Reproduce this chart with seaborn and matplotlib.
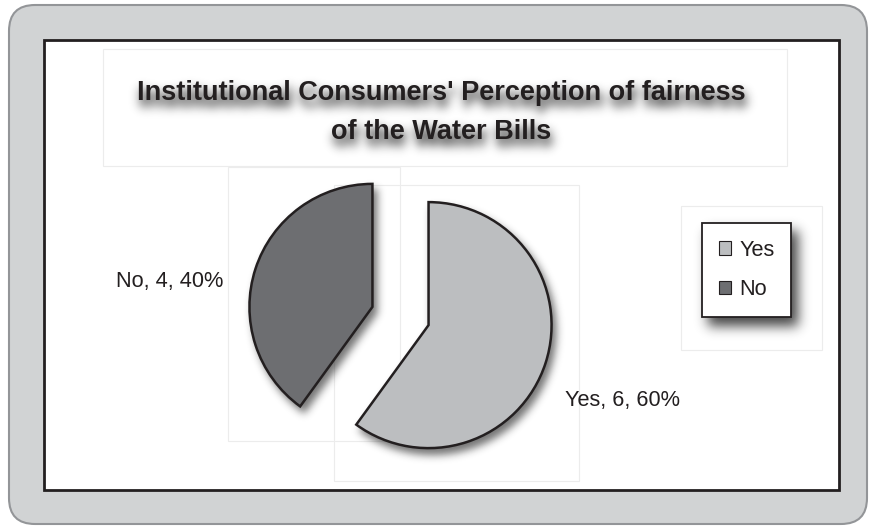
import numpy as np
import matplotlib
matplotlib.use("Agg")
import matplotlib.pyplot as plt
import seaborn as sns
from matplotlib.patches import FancyBboxPatch, Rectangle, Patch
from matplotlib.legend import Legend

# ---- data ----
categories = ["Yes", "No"]
counts = [6, 4]
title_lines = ["Institutional Consumers' Perception of fairness",
               "of the Water Bills"]

# ---- style ----
sns.set_theme(style="white")
plt.rcParams["font.family"] = ["Liberation Sans", "DejaVu Sans"]
palette = sns.color_palette(["#bcbec0", "#6d6e71"])
INK = "#231f20"

W, H = 869, 526
fig = plt.figure(figsize=(W / 100, H / 100), dpi=100)
fig.patch.set_facecolor("white")
ax = fig.add_axes([0, 0, 1, 1])


def Y(y):
    """Convert a top-based pixel row to the axes' y coordinate."""
    return H - y


def _blur(a, sigma):
    r = max(1, int(3 * sigma))
    k = np.exp(-0.5 * (np.arange(-r, r + 1) / sigma) ** 2)
    k /= k.sum()
    a = np.apply_along_axis(lambda m: np.convolve(m, k, mode="same"), 0, a)
    a = np.apply_along_axis(lambda m: np.convolve(m, k, mode="same"), 1, a)
    return a


class SoftShadow:
    """agg_filter that turns an artist into a blurred, offset drop shadow."""

    def __init__(self, sigma, alpha, offset, color=(0.1, 0.1, 0.1)):
        self.sigma, self.alpha, self.offset, self.color = sigma, alpha, offset, color

    def __call__(self, im, dpi):
        dx, dy = self.offset
        pad = int(3 * self.sigma + max(abs(dx), abs(dy))) + 2
        a = np.pad(im[..., 3], pad)
        a = _blur(a, self.sigma) * self.alpha
        a = np.roll(a, (dy, dx), axis=(0, 1))
        out = np.zeros(a.shape + (4,), float)
        out[..., :3] = self.color
        out[..., 3] = np.clip(a, 0, 1)
        return out, -pad, -pad


# ---- chart frame ----
outer = FancyBboxPatch((9, Y(524)), 858, 519,
                       boxstyle="round,pad=0,rounding_size=26",
                       fc="#d1d3d4", ec="#939598", lw=1.5, zorder=0)
ax.add_patch(outer)
inner = Rectangle((44, Y(490)), 795, 450, fc="white", ec=INK, lw=2.0, zorder=1)
ax.add_patch(inner)

# faint outlines of the title, plot and legend areas
for (x0, y0, x1, y1) in [(103, 49, 787, 166), (228, 167, 400, 441),
                         (334, 185, 579, 481), (681, 206, 822, 350)]:
    ax.add_patch(Rectangle((x0, Y(y1)), x1 - x0, y1 - y0, fill=False,
                           ec="#ececec", lw=0.8, zorder=1.5))

# ---- pie (explode distance is in data units = pixels here) ----
center = (400.5, Y(316))
radius = 123
explode = [29.5, 29.5]

shadow_wedges, _ = ax.pie(counts, colors=["black", "black"], startangle=90,
                          counterclock=False, explode=explode, radius=radius,
                          center=center, frame=True,
                          wedgeprops=dict(lw=1.5, ec="black"))
for w in shadow_wedges:
    w.set_zorder(2)
    w.set_agg_filter(SoftShadow(sigma=4, alpha=0.6, offset=(4, 6)))

wedges, _ = ax.pie(counts, colors=palette, startangle=90, counterclock=False,
                   explode=explode, radius=radius, center=center, frame=True,
                   wedgeprops=dict(lw=1.8, ec=INK, joinstyle="miter"))
for w in wedges:
    w.set_zorder(3)

# data labels: "category, value, percent"
total = sum(counts)
label_text = [f"{c}, {v}, {round(100 * v / total)}%" for c, v in zip(categories, counts)]
label_pos = {"Yes": (565, 406, "left"), "No": (223, 287, "right")}
for c, txt in zip(categories, label_text):
    x, y, ha = label_pos[c]
    ax.text(x, Y(y), txt, ha=ha, va="baseline", fontsize=15.7, color=INK, zorder=5)

# ---- title with soft shadow ----
for line, base in zip(title_lines, [99.5, 139]):
    kw = dict(ha="center", va="baseline", fontsize=19.5, fontweight="bold")
    sh = ax.text(441, Y(base), line, color="black", zorder=4, **kw)
    sh.set_agg_filter(SoftShadow(sigma=5, alpha=1.0, offset=(2, 7)))
    ax.text(441, Y(base), line, color=INK, zorder=5, **kw)

# ---- legend with soft shadow ----
handles = [Patch(fc=col, ec=INK, lw=0.8) for col in palette]
leg_kw = dict(loc="center", bbox_to_anchor=(746.5, Y(270)),
              bbox_transform=ax.transData, fontsize=15.7, frameon=True,
              fancybox=False, handlelength=0.55, handleheight=0.55,
              handletextpad=0.4, borderpad=0.78, labelspacing=0.85,
              edgecolor=INK, facecolor="white", framealpha=1)
leg_sh = Legend(ax, handles, categories, **leg_kw)
leg_sh.set_zorder(4)
leg_sh.set_agg_filter(SoftShadow(sigma=6, alpha=0.8, offset=(6, 8)))
ax.add_artist(leg_sh)
leg = Legend(ax, handles, categories, **leg_kw)
leg.get_frame().set_linewidth(1.3)
for t in leg.get_texts():
    t.set_color(INK)
leg.set_zorder(6)
ax.add_artist(leg)

ax.set_xlim(0, W)
ax.set_ylim(0, H)
ax.set_aspect("auto")
ax.axis("off")

fig.savefig("out.png", dpi=100)
